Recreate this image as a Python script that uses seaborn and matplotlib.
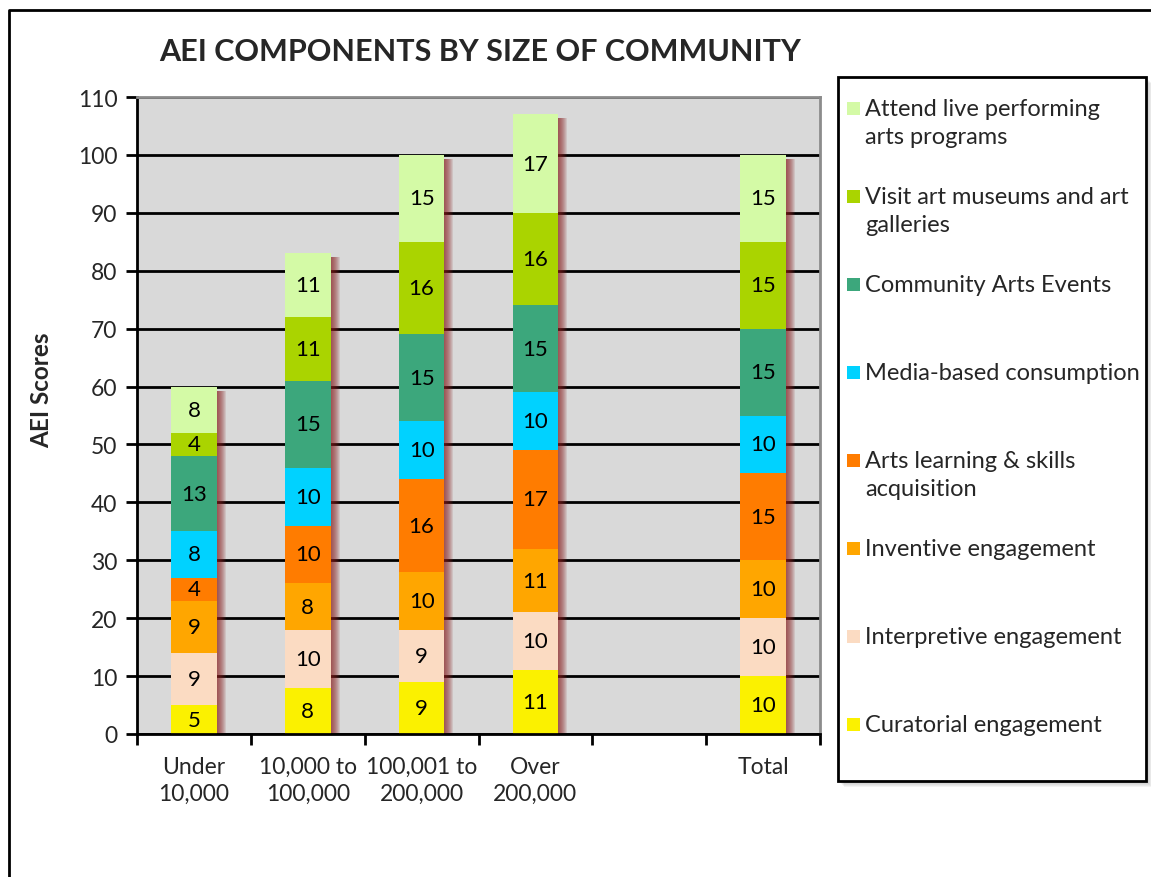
import numpy as np
import pandas as pd
import matplotlib
matplotlib.use("Agg")
import matplotlib.pyplot as plt
from matplotlib.patches import Rectangle
from matplotlib.lines import Line2D
import seaborn as sns

# ---- data -------------------------------------------------------------
communities = ["Under\n10,000", "10,000 to\n100,000", "100,001 to\n200,000",
               "Over\n200,000", " ", "Total"]
components = ["Curatorial engagement", "Interpretive engagement",
              "Inventive engagement", "Arts learning & skills\nacquisition",
              "Media-based consumption", "Community Arts Events",
              "Visit art museums and art\ngalleries",
              "Attend live performing\narts programs"]
colors = ["#FBF100", "#FBDBC2", "#FFA600", "#FF7C00",
          "#00D2FF", "#3CA77C", "#AAD400", "#D4FAA6"]

under_10k = [5, 9, 9, 4, 8, 13, 4, 8]
k10_to_100k = [8, 10, 8, 10, 10, 15, 11, 11]
k100_to_200k = [9, 9, 10, 16, 10, 15, 16, 15]
over_200k = [11, 10, 11, 17, 10, 15, 16, 17]
total = [10, 10, 10, 15, 10, 15, 15, 15]

series = {communities[0]: under_10k, communities[1]: k10_to_100k,
          communities[2]: k100_to_200k, communities[3]: over_200k,
          communities[5]: total}

rows = []
for comm, vals in series.items():
    cum = np.cumsum(vals)
    for comp, v, c in zip(components, vals, cum):
        rows.append(dict(community=comm, component=comp, value=v,
                         top=c, bottom=c - v))
df = pd.DataFrame(rows)

# ---- figure -----------------------------------------------------------
W, H = 1151, 878
sns.set_theme(style="white")
plt.rcParams["font.family"] = ["Lato", "DejaVu Sans"]
fig = plt.figure(figsize=(W / 100, H / 100), dpi=100)
fig.patch.set_facecolor("white")

def fx(x):
    return x / W

def fy(y):
    return 1 - y / H

ax = fig.add_axes([fx(137), fy(735), fx(820) - fx(137), fy(98) - fy(735)])
ax.set_facecolor("#D9D9D9")

bar_w = 0.4
px_x = 6.0 / (820 - 137)      # one pixel in category units
px_y = 110.0 / (735 - 98)     # one pixel in score units
pos = {c: i for i, c in enumerate(communities)}

# soft reddish drop shadow to the right of each column
totals = df.groupby("community", sort=False)["top"].max()
xs = np.array([pos[c] for c in totals.index])
for d in range(1, 10):
    ax.bar(xs + d * px_x, totals.values - 4 * px_y, width=bar_w,
           color="#8A2020", alpha=0.12, linewidth=0, zorder=1)

# stacked columns: draw cumulative heights from the top layer down
for comp, col in reversed(list(zip(components, colors))):
    sub = df[df["component"] == comp]
    sns.barplot(data=sub, x="community", y="top", order=communities,
                color=col, saturation=1, width=bar_w, errorbar=None,
                linewidth=0, ax=ax, zorder=2)

for _, r in df.iterrows():
    ax.text(pos[r["community"]], (r["bottom"] + r["top"]) / 2,
            f"{r['value']:g}", ha="center", va="center",
            fontsize=16, color="black", zorder=5)

# axes styling
ax.set_xlim(-0.5, len(communities) - 0.5)
ax.set_ylim(0, 110)
ax.set_yticks(np.arange(0, 111, 10))
ax.set_xticks(np.arange(-0.5, len(communities), 1.0))
ax.set_xticklabels([])
ax.set_xticks(np.arange(len(communities)), minor=True)
ax.set_xticklabels(communities, minor=True, fontsize=16.5, linespacing=1.35)
ax.tick_params(axis="x", which="major", direction="out", length=8,
               width=2, color="black", bottom=True)
ax.tick_params(axis="x", which="minor", length=0, pad=16, bottom=True)
ax.tick_params(axis="y", direction="out", length=8, width=2,
               color="black", labelsize=16.5, left=True, pad=6)
ax.set_xlabel("")
ax.set_ylabel("")
ax.set_axisbelow(True)
ax.yaxis.grid(True, color="black", linewidth=2)
ax.xaxis.grid(False)
for side in ["left", "bottom"]:
    ax.spines[side].set_color("black")
    ax.spines[side].set_linewidth(2)
for side in ["top", "right"]:
    ax.spines[side].set_color("#8C8C8C")
    ax.spines[side].set_linewidth(2)
for sp in ax.spines.values():
    sp.set_visible(True)
    sp.set_zorder(3)

# title and axis label
fig.text(fx(480), fy(52), "AEI COMPONENTS BY SIZE OF COMMUNITY",
         ha="center", va="center", fontsize=22, fontweight="bold")
fig.text(fx(42), fy(390), "AEI Scores", rotation=90, ha="center",
         va="center", fontsize=17.5, fontweight="bold")

# outer frame
fig.add_artist(Line2D([fx(9), fx(9), fx(1160)], [fy(900), fy(11), fy(11)],
                      color="black", linewidth=2, transform=fig.transFigure))

# legend box with drop shadow
lx0, ly0, lx1, ly1 = 838, 78, 1146, 782
for d in range(1, 7):
    fig.add_artist(Rectangle((fx(lx0 + d), fy(ly1 + d)), fx(lx1 - lx0),
                             fy(ly0) - fy(ly1), transform=fig.transFigure,
                             facecolor="#606060", alpha=0.07, linewidth=0))
fig.add_artist(Rectangle((fx(lx0), fy(ly1)), fx(lx1 - lx0),
                         fy(ly0) - fy(ly1), transform=fig.transFigure,
                         facecolor="white", edgecolor="black", linewidth=2))
entry_y0, entry_step, line_step = 110, 88, 28
for i, (comp, col) in enumerate(reversed(list(zip(components, colors)))):
    yc = entry_y0 + i * entry_step
    fig.add_artist(Rectangle((fx(847), fy(yc + 6)), fx(13), fy(0) - fy(13),
                             transform=fig.transFigure, facecolor=col,
                             linewidth=0))
    for j, line in enumerate(comp.split("\n")):
        fig.text(fx(865), fy(yc + j * line_step), line, ha="left",
                 va="center", fontsize=17)

fig.savefig("out.png", dpi=100)
